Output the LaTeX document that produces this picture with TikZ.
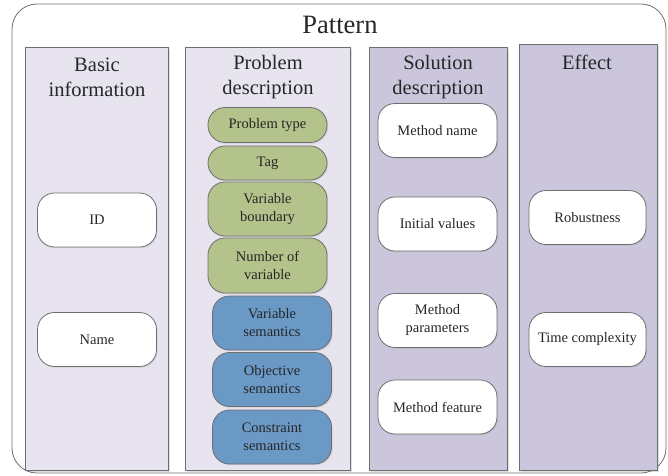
\documentclass[tikz,border=0pt]{standalone}
\usepackage{fontspec}
\setmainfont{Liberation Serif}
\usetikzlibrary{shadows}

\definecolor{lightpane}{HTML}{E7E4EF}
\definecolor{darkpane}{HTML}{CCC6DC}
\definecolor{probgreen}{HTML}{B3C38B}
\definecolor{semblue}{HTML}{6A99C6}
\definecolor{edgegray}{HTML}{6E6E6E}

\tikzset{
  pane/.style={draw=edgegray, line width=0.8pt,
    drop shadow={shadow xshift=1.5pt, shadow yshift=-1.5pt, opacity=0.25, fill=gray}},
  heading/.style={font=\fontsize{20.5}{25}\selectfont, align=center, text=black!85},
  item/.style={draw=edgegray, line width=0.8pt, rounded corners=17pt,
    minimum width=119pt, inner sep=0pt, align=center, text=black!85,
    font=\fontsize{14.5}{18}\selectfont,
    drop shadow={shadow xshift=1.2pt, shadow yshift=-1.2pt, opacity=0.2, fill=gray}},
  plainitem/.style={item, fill=white, minimum height=54pt},
  greenitem/.style={item, fill=probgreen},
  blueitem/.style={item, fill=semblue, minimum height=54pt}
}

\begin{document}
\begin{tikzpicture}[x=1pt, y=-1pt]
			%%%%% START %%%%%
			\useasboundingbox (0, 0) rectangle (668, 475);
			
			\draw[draw=edgegray, line width=0.8pt, rounded corners=25pt, fill=white] (12, 4) rectangle (666, 473);
			\node[font=\fontsize{26.5}{30}\selectfont, text=black!85] (pattern) at (340, 25) {Pattern};
			
			%%%%% COLUMNS %%%%%
			\draw[pane, fill=lightpane] (25, 47) rectangle (168, 470);
			\draw[pane, fill=lightpane] (185, 47) rectangle (350, 470);
			\draw[pane, fill=darkpane] (369, 47) rectangle (507, 470);
			\draw[pane, fill=darkpane] (519, 44) rectangle (657, 470);
			
			\node[heading] (basic) at (97, 77) {Basic\\information};
			\node[heading] (problem) at (268, 77) {Problem\\description};
			\node[heading] (solution) at (438, 77) {Solution\\description};
			\node[heading] (effect) at (587, 62) {Effect};
			
			%%%%% BASIC INFORMATION %%%%%
			\node[plainitem] (id) at (97, 220) {ID};
			\node[plainitem] (name) at (97, 339.5) {Name};
			
			%%%%% PROBLEM DESCRIPTION %%%%%
			\node[greenitem, minimum height=35pt] (ptype) at (267.5, 125) {Problem type};
			\node[greenitem, minimum height=34pt] (tag) at (267.5, 163) {Tag};
			\node[greenitem, minimum height=54pt] (vbound) at (267.5, 209) {Variable\\boundary};
			\node[greenitem, minimum height=55pt] (nvar) at (267.5, 265.5) {Number of\\variable};
			\node[blueitem] (vsem) at (272, 323) {Variable\\semantics};
			\node[blueitem] (osem) at (272, 379.5) {Objective\\semantics};
			\node[blueitem] (csem) at (272, 437) {Constraint\\semantics};
			
			%%%%% SOLUTION DESCRIPTION %%%%%
			\node[plainitem] (mname) at (437.5, 130.5) {Method name};
			\node[plainitem] (ivals) at (437.5, 224) {Initial values};
			\node[plainitem] (mparam) at (437.5, 320.5) {Method\\parameters};
			\node[plainitem] (mfeat) at (437.5, 407) {Method feature};
			
			%%%%% EFFECT %%%%%
			\node[plainitem, minimum width=117pt] (robust) at (587.5, 217.5) {Robustness};
			\node[plainitem, minimum width=117pt] (tcomp) at (587.5, 339.5) {Time complexity};
			
			%%%%% END %%%%%
		\end{tikzpicture}
\end{document}
